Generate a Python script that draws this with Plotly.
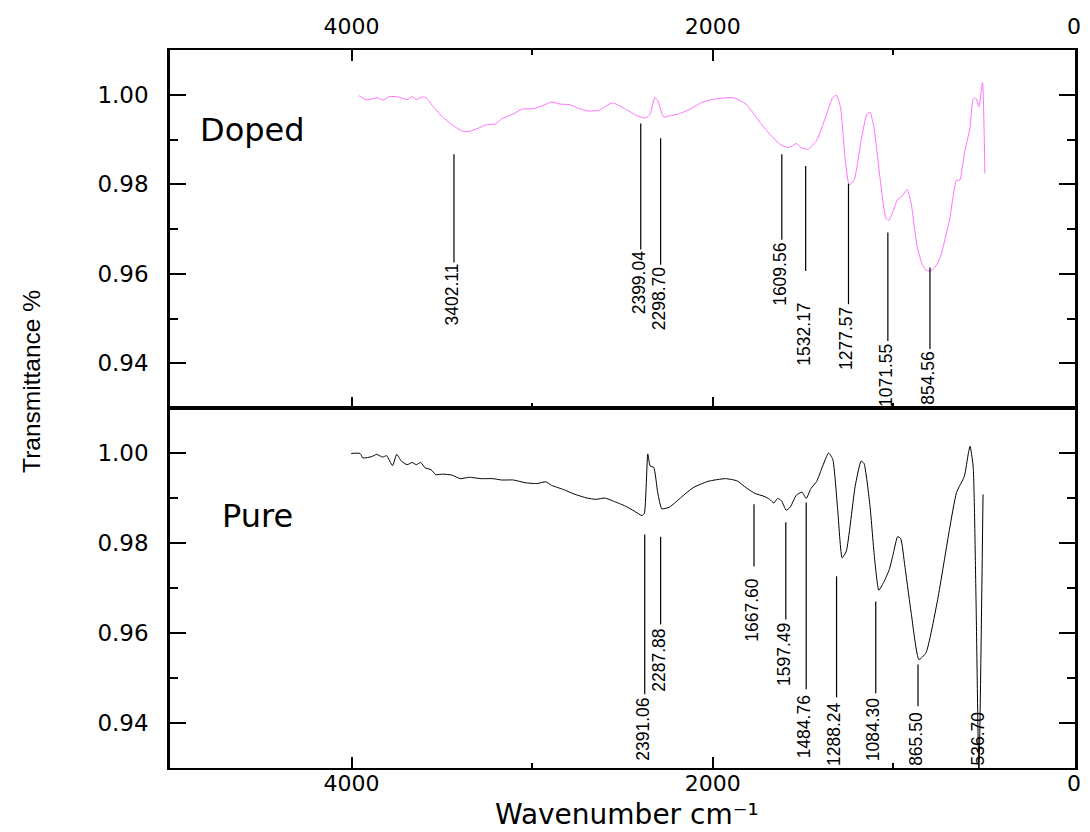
import plotly.graph_objects as go

# ---------------- data ----------------
doped_wavenumber = [3959, 3920, 3855, 3826, 3789, 3741, 3692, 3665, 3642, 3609, 3586, 3545, 3496, 3430,
                    3381, 3348, 3300, 3252, 3202, 3169, 3104, 3055, 2990, 2941, 2892, 2844, 2795, 2746,
                    2697, 2631, 2556, 2484, 2419, 2371, 2347, 2321, 2305, 2272, 2239, 2190, 2125, 2060,
                    1995, 1931, 1882, 1816, 1733, 1669, 1620, 1577, 1538, 1513, 1474, 1425, 1376, 1336,
                    1316, 1293, 1267, 1245, 1218, 1179, 1147, 1130, 1108, 1075, 1042, 1026, 1000, 977,
                    960, 924, 902, 869, 840, 820, 800, 787, 760, 739, 690, 651, 633, 608, 576, 559, 543,
                    527, 507, 494]
doped_transmittance = [0.9998, 0.9989, 0.9993, 0.9988, 0.9996, 0.9995, 0.9989, 0.9996, 0.9989, 0.9995,
                       0.9993, 0.9972, 0.9950, 0.9929, 0.9918, 0.9918, 0.9925, 0.9933, 0.9935, 0.9946,
                       0.9957, 0.9968, 0.9969, 0.9976, 0.9984, 0.9979, 0.9978, 0.9970, 0.9964, 0.9965,
                       0.9982, 0.9968, 0.9953, 0.9948, 0.9957, 0.9994, 0.9987, 0.9950, 0.9953, 0.9957,
                       0.9968, 0.9983, 0.9990, 0.9993, 0.9993, 0.9979, 0.9935, 0.9905, 0.9887, 0.9882,
                       0.9891, 0.9882, 0.9878, 0.9898, 0.9950, 0.9994, 0.9999, 0.9972, 0.9853, 0.9799,
                       0.9809, 0.9898, 0.9957, 0.9961, 0.9927, 0.9816, 0.9724, 0.9719, 0.9742, 0.9766,
                       0.9770, 0.9788, 0.9757, 0.9661, 0.9620, 0.9608, 0.9606, 0.9608, 0.9620, 0.9639,
                       0.9720, 0.9809, 0.9809, 0.9868, 0.9927, 0.9990, 0.9992, 0.9973, 1.0027, 0.9824]

pure_wavenumber = [4002, 3953, 3937, 3888, 3861, 3828, 3806, 3773, 3750, 3724, 3692, 3665, 3642, 3617,
                   3593, 3560, 3534, 3494, 3445, 3398, 3348, 3283, 3217, 3169, 3104, 3039, 2974, 2925,
                   2892, 2828, 2762, 2697, 2647, 2598, 2550, 2484, 2435, 2392, 2379, 2360, 2347, 2327,
                   2305, 2282, 2239, 2174, 2109, 2027, 1930, 1865, 1816, 1766, 1718, 1685, 1662, 1642,
                   1620, 1594, 1571, 1538, 1506, 1483, 1457, 1425, 1392, 1359, 1336, 1309, 1284, 1261,
                   1212, 1179, 1163, 1130, 1104, 1081, 1055, 1023, 1000, 977, 960, 937, 902, 859, 820,
                   755, 690, 651, 608, 585, 576, 559, 543, 527, 504]
pure_transmittance = [0.9999, 0.9999, 0.9989, 0.9992, 0.9997, 0.9991, 0.9994, 0.9972, 0.9997, 0.9982,
                      0.9974, 0.9979, 0.9974, 0.9979, 0.9967, 0.9963, 0.9952, 0.9953, 0.9951, 0.9943,
                      0.9946, 0.9943, 0.9943, 0.9940, 0.9940, 0.9934, 0.9932, 0.9936, 0.9928, 0.9919,
                      0.9908, 0.9900, 0.9897, 0.9900, 0.9893, 0.9882, 0.9871, 0.9861, 0.9866, 0.9998,
                      0.9971, 0.9968, 0.9912, 0.9876, 0.9880, 0.9902, 0.9923, 0.9937, 0.9943, 0.9938,
                      0.9923, 0.9910, 0.9904, 0.9897, 0.9889, 0.9899, 0.9894, 0.9873, 0.9880, 0.9906,
                      0.9913, 0.9899, 0.9921, 0.9937, 0.9971, 1.0000, 0.9986, 0.9875, 0.9767, 0.9782,
                      0.9926, 0.9982, 0.9977, 0.9882, 0.9763, 0.9695, 0.9712, 0.9741, 0.9778, 0.9814,
                      0.9810, 0.9749, 0.9645, 0.9541, 0.9556, 0.9675, 0.9830, 0.9912, 0.9948, 1.0000,
                      1.0015, 0.9971, 0.9675, 0.9290, 0.9908]

# peak labels (text) and where their marker lines were drawn
doped_peak_labels = ["3402.11", "2399.04", "2298.70", "1609.56", "1532.17", "1277.57", "1071.55", "854.56"]
doped_peak_x = [3433, 2399, 2289, 1618, 1486, 1249, 1031, 798]
doped_line_top = [0.9867, 0.9936, 0.9903, 0.9867, 0.9841, 0.9801, 0.9692, 0.9614]
doped_line_bottom = [0.9625, 0.9654, 0.9620, 0.9676, 0.9606, 0.9532, 0.9450, 0.9432]
doped_text_top = [0.9625, 0.9654, 0.9618, 0.9672, 0.9538, 0.9528, 0.9446, 0.9430]

pure_peak_labels = ["2391.06", "2287.88", "1667.60", "1597.49", "1484.76", "1288.24", "1084.30", "865.50", "536.70"]
pure_peak_x = [2377, 2289, 1772, 1596, 1483, 1315, 1098, 864, 523]
pure_line_top = [0.9819, 0.9814, 0.9886, 0.9846, 0.9890, 0.9726, 0.9670, 0.9530, None]
pure_line_bottom = [0.9464, 0.9619, 0.9748, 0.9630, 0.9475, 0.9457, 0.9466, 0.9437, None]
pure_text_top = [0.9459, 0.9612, 0.9725, 0.9625, 0.9463, 0.9448, 0.9459, 0.9427, 0.9427]

x_tick_vals = [4000, 2000, 0]
x_tick_text = ["4000", "2000", "0"]
x_minor_vals = [3000, 1000]
y_tick_vals = [0.94, 0.96, 0.98, 1.00]
y_tick_text = ["0.94", "0.96", "0.98", "1.00"]
y_minor_vals = [0.95, 0.97, 0.99]

# ---------------- figure ----------------
W, H = 1090, 832
ML, MR, MT, MB = 170, 9, 50, 64
PW, PH = W - ML - MR, H - MT - MB
split = 360 / PH

WIDE = "DejaVu Sans, Liberation Sans, Arial"
NARROW = "Liberation Sans, Arial"
TICK_FONT = dict(family=WIDE, size=22, color="black")

fig = go.Figure()
fig.add_trace(go.Scatter(x=doped_wavenumber, y=doped_transmittance, mode="lines",
                         line=dict(color="#FF70FF", width=1, shape="spline", smoothing=0.5),
                         xaxis="x2", yaxis="y2", name="Doped", showlegend=False))
fig.add_trace(go.Scatter(x=pure_wavenumber, y=pure_transmittance, mode="lines",
                         line=dict(color="black", width=1, shape="spline", smoothing=0.5),
                         xaxis="x", yaxis="y", name="Pure", showlegend=False))

common_x = dict(range=[5005, -5], tickmode="array", tickvals=x_tick_vals, ticktext=x_tick_text,
                ticks="inside", ticklen=11, tickwidth=2, tickcolor="black",
                showline=True, linewidth=2, linecolor="black", showgrid=False, zeroline=False,
                tickfont=TICK_FONT,
                minor=dict(tickmode="array", tickvals=x_minor_vals, ticks="inside", ticklen=5,
                           tickwidth=2, tickcolor="black", showgrid=False))
common_y = dict(range=[0.93, 1.01], tickmode="array", tickvals=y_tick_vals, ticktext=y_tick_text,
                ticks="inside", ticklen=16, tickwidth=2, tickcolor="black",
                showline=True, linewidth=2.5, linecolor="black", showgrid=False, zeroline=False,
                mirror="ticks", tickfont=dict(TICK_FONT, size=23), ticklabelstandoff=14,
                minor=dict(tickmode="array", tickvals=y_minor_vals, ticks="inside", ticklen=8,
                           tickwidth=2, tickcolor="black", showgrid=False))

fig.update_layout(
    width=W, height=H, margin=dict(l=ML, r=MR, t=MT, b=MB),
    paper_bgcolor="white", plot_bgcolor="white", showlegend=False,
    xaxis=dict(common_x, domain=[0, 1], anchor="y", side="bottom", mirror=True, ticklabelstandoff=-5),
    xaxis2=dict(common_x, domain=[0, 1], anchor="y2", side="top", matches="x", mirror="ticks",
                ticklabelstandoff=5),
    yaxis=dict(common_y, domain=[0, split], anchor="x"),
    yaxis2=dict(common_y, domain=[split, 1], anchor="x2"),
)

shapes = []
annotations = []


def add_peaks(labels, xs, tops, bottoms, text_tops, xref, yref):
    for lab, xv, t, b, tt in zip(labels, xs, tops, bottoms, text_tops):
        if t is not None:
            shapes.append(dict(type="line", xref=xref, yref=yref, x0=xv, x1=xv, y0=t, y1=b,
                               line=dict(color="black", width=1.2)))
        annotations.append(dict(text=lab, x=xv, y=tt, xref=xref, yref=yref, showarrow=False,
                                textangle=-90, xanchor="center", yanchor="top", xshift=-2,
                                borderpad=0, font=dict(family=NARROW, size=17.5, color="black")))


add_peaks(doped_peak_labels, doped_peak_x, doped_line_top, doped_line_bottom, doped_text_top, "x2", "y2")
add_peaks(pure_peak_labels, pure_peak_x, pure_line_top, pure_line_bottom, pure_text_top, "x", "y")

# panel names
annotations.append(dict(text="Doped", x=4850, y=0.9921, xref="x2", yref="y2", showarrow=False,
                        xanchor="left", yanchor="middle",
                        font=dict(family=WIDE, size=32, color="black")))
annotations.append(dict(text="Pure", x=4726, y=0.9861, xref="x", yref="y", showarrow=False,
                        xanchor="left", yanchor="middle",
                        font=dict(family=WIDE, size=32, color="black")))

# axis titles
annotations.append(dict(text="Transmittance %", x=(30 - ML) / PW, y=(H - MB - 381) / PH,
                        xref="paper", yref="paper", showarrow=False, textangle=-90,
                        xanchor="center", yanchor="middle",
                        font=dict(family=NARROW, size=24.5, color="black")))
annotations.append(dict(text="Wavenumber cm⁻¹", x=(630 - ML) / PW, y=(H - MB - 832) / PH,
                        xref="paper", yref="paper", showarrow=False,
                        xanchor="center", yanchor="bottom", borderpad=0,
                        font=dict(family=WIDE, size=28, color="black")))

fig.update_layout(shapes=shapes, annotations=annotations)
fig.write_html("out.html", post_script="document.body.style.margin='0px';",
               config={"displayModeBar": False})
